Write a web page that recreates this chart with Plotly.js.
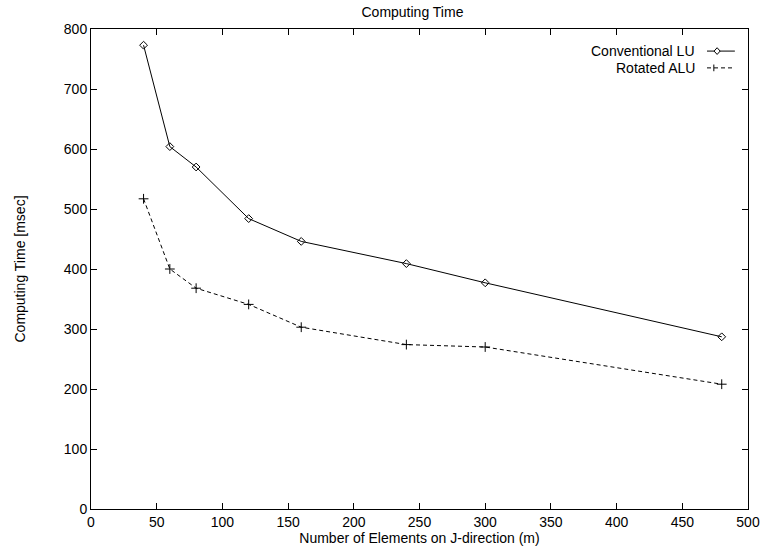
<!DOCTYPE html>
<html>
<head>
<meta charset="utf-8">
<script src="https://cdn.plot.ly/plotly-3.0.1.min.js"></script>
<style>html,body{margin:0;padding:0;background:#fff;}#chart{width:761px;height:549px;}</style>
</head>
<body>
<div id="chart"></div>
<script>
var elements = [40, 60, 80, 120, 160, 240, 300, 480];
var conventionalLU = [773, 604, 570, 484, 446, 409, 377, 287];
var rotatedALU = [517, 400, 368, 341, 303, 274, 270, 208];
var seriesNames = ["Conventional LU", "Rotated ALU"];
var xTicks = [0, 50, 100, 150, 200, 250, 300, 350, 400, 450, 500];
var yTicks = [0, 100, 200, 300, 400, 500, 600, 700, 800];

var FONT = "Liberation Sans, Arial, Helvetica, sans-serif";

var traces = [
  {
    x: elements, y: conventionalLU, name: seriesNames[0],
    type: "scatter", mode: "lines+markers",
    line: {color: "#000", width: 1},
    marker: {symbol: "diamond-open", size: 6, color: "#000", line: {width: 1, color: "#000"}}
  },
  {
    x: elements, y: rotatedALU, name: seriesNames[1],
    type: "scatter", mode: "lines+markers",
    line: {color: "#000", width: 1, dash: "4px,3px"},
    marker: {symbol: "cross-thin-open", size: 7, color: "#000", line: {width: 1, color: "#000"}}
  }
];

var axisCommon = {
  showgrid: false, zeroline: false, showline: true, linecolor: "#000", linewidth: 1,
  mirror: "ticks", ticks: "inside", ticklen: 6, tickcolor: "#000", tickwidth: 1,
  tickfont: {family: FONT, size: 14, color: "#000"}
};

var layout = {
  width: 761, height: 549,
  paper_bgcolor: "#fff", plot_bgcolor: "#fff",
  margin: {l: 91, r: 13, t: 29, b: 40},
  showlegend: false,
  font: {family: FONT, size: 14, color: "#000"},
  title: {text: "Computing Time", font: {family: FONT, size: 14, color: "#000"},
          x: 0.542, xanchor: "center", y: 0.978, yanchor: "middle", xref: "container", yref: "container"},
  xaxis: Object.assign({}, axisCommon, {
    range: [0, 500], tickvals: xTicks, ticktext: xTicks.map(String),
    title: {text: "Number of Elements on J-direction (m)", font: {family: FONT, size: 14, color: "#000"}, standoff: 1}
  }),
  yaxis: Object.assign({}, axisCommon, {
    range: [0, 800], tickvals: yTicks, ticktext: yTicks.map(String),
    title: {text: "Computing Time [msec]", font: {family: FONT, size: 14, color: "#000"}, standoff: 34}
  }),
  annotations: [
    {xref: "paper", yref: "paper", x: 0.922, y: 0.954, xanchor: "right", yanchor: "middle",
     text: seriesNames[0], showarrow: false, font: {family: FONT, size: 14, color: "#000"}},
    {xref: "paper", yref: "paper", x: 0.922, y: 0.919, xanchor: "right", yanchor: "middle",
     text: seriesNames[1], showarrow: false, font: {family: FONT, size: 14, color: "#000"}}
  ],
  shapes: [
    {type: "line", xref: "paper", yref: "paper", x0: 0.9376, x1: 0.980, y0: 0.954, y1: 0.954,
     line: {color: "#000", width: 1}},
    {type: "path", xref: "paper", yref: "paper",
     path: "M 0.953 0.961 L 0.9576 0.954 L 0.953 0.947 L 0.9484 0.954 Z",
     fillcolor: "#fff", line: {color: "#000", width: 1}},
    {type: "line", xref: "paper", yref: "paper", x0: 0.9376, x1: 0.980, y0: 0.919, y1: 0.919,
     line: {color: "#000", width: 1, dash: "4px,3px"}},
    {type: "line", xref: "paper", yref: "paper", x0: 0.948, x1: 0.948, y0: 0.912, y1: 0.926,
     line: {color: "#000", width: 1}}
  ]
};

Plotly.newPlot("chart", traces, layout, {displayModeBar: false, staticPlot: true});
</script>
</body>
</html>
